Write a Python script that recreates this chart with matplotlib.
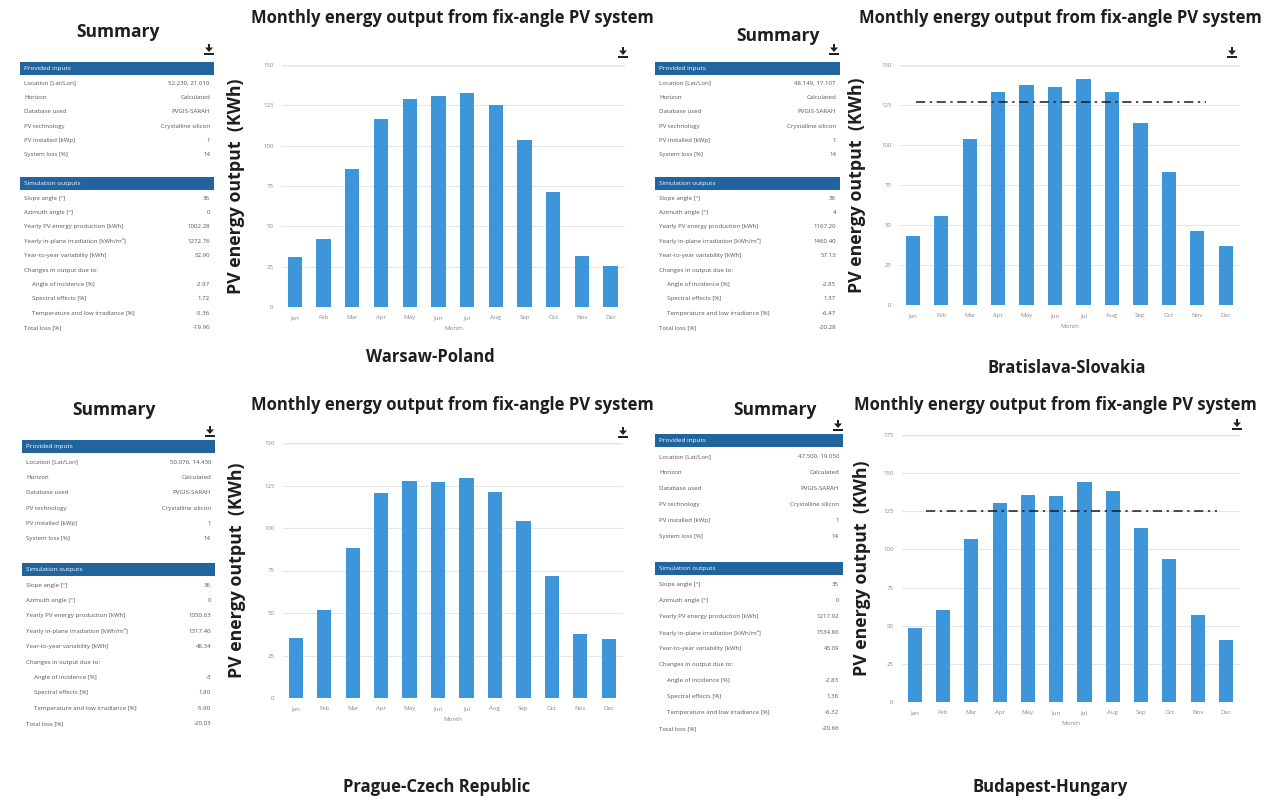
import matplotlib
matplotlib.use("Agg")
import matplotlib.pyplot as plt
from matplotlib.patches import Rectangle, Polygon

plt.rcParams["font.family"] = ["Open Sans", "DejaVu Sans"]

# ---------------------------------------------------------------- data
months = ["Jan", "Feb", "Mar", "Apr", "May", "Jun",
          "Jul", "Aug", "Sep", "Oct", "Nov", "Dec"]

warsaw_kwh = [31.3, 42.3, 85.4, 116.3, 128.8, 130.8, 132.7, 125.4, 103.8, 71.5, 31.9, 25.4]
bratislava_kwh = [43.3, 55.8, 103.5, 132.9, 137.5, 136.0, 141.3, 133.1, 114.0, 82.9, 46.3, 36.9]
prague_kwh = [35.3, 52.0, 88.2, 120.6, 127.5, 126.9, 129.4, 121.0, 103.9, 71.6, 37.8, 34.9]
budapest_kwh = [48.8, 60.2, 106.8, 130.6, 135.4, 135.2, 144.0, 138.5, 114.2, 93.4, 56.9, 40.5]

bratislava_ref = 127
budapest_ref = 125

input_labels = ["Location [Lat/Lon]", "Horizon", "Database used", "PV technology",
                "PV installed [kWp]", "System loss [%]"]
output_labels = ["Slope angle [°]", "Azimuth angle [°]",
                 "Yearly PV energy production [kWh]",
                 "Yearly in-plane irradiation [kWh/m²]",
                 "Year-to-year variability [kWh]", "Changes in output due to:",
                 "Angle of incidence [%]", "Spectral effects [%]",
                 "Temperature and low irradiance [%]", "Total loss [%]"]
indented_rows = [6, 7, 8]

warsaw_inputs = ["52.230, 21.010", "Calculated", "PVGIS-SARAH", "Crystalline silicon", "1", "14"]
warsaw_outputs = ["36", "0", "1002.28", "1272.76", "52.90", "", "-2.97", "1.72", "-5.36", "-19.96"]
bratislava_inputs = ["48.149, 17.107", "Calculated", "PVGIS-SARAH", "Crystalline silicon", "1", "14"]
bratislava_outputs = ["36", "4", "1167.20", "1460.40", "57.13", "", "-2.85", "1.37", "-6.47", "-20.28"]
prague_inputs = ["50.076, 14.430", "Calculated", "PVGIS-SARAH", "Crystalline silicon", "1", "14"]
prague_outputs = ["36", "0", "1050.63", "1317.40", "48.34", "", "-3", "1.80", "-5.90", "-20.03"]
budapest_inputs = ["47.500, 19.050", "Calculated", "PVGIS-SARAH", "Crystalline silicon", "1", "14"]
budapest_outputs = ["35", "0", "1217.92", "1534.86", "43.09", "", "-2.83", "1.36", "-6.32", "-20.66"]

chart_title = "Monthly energy output from fix-angle PV system"
y_label = "PV energy output  (KWh)"

# ---------------------------------------------------------------- figure
W, H = 1275, 801
fig = plt.figure(figsize=(W / 100, H / 100), dpi=100)
fig.patch.set_facecolor("white")

bg = fig.add_axes([0, 0, 1, 1], zorder=0)
bg.set_xlim(0, W)
bg.set_ylim(H, 0)
bg.axis("off")

BAR = "#3d95da"
HEAD = "#22649e"
TXT = "#555555"
DARK = "#1e1e1e"


def download_icon(cx, cy):
    col = "#222222"
    bg.add_patch(Rectangle((cx - 1.3, cy - 6), 2.6, 4, color=col, lw=0))
    bg.add_patch(Polygon([[cx - 4, cy - 2.5], [cx + 4, cy - 2.5], [cx, cy + 2]],
                         closed=True, color=col, lw=0))
    bg.add_patch(Rectangle((cx - 5, cy + 3), 10, 2.2, color=col, lw=0))


def summary_table(x0, x1, yc0, pitch, inputs, outputs, title_xy, icon_xy):
    bg.text(title_xy[0], title_xy[1], "Summary", ha="center", va="center",
            fontsize=12.5, fontweight="bold", color=DARK)
    download_icon(*icon_xy)
    hh = 13.5
    for k, head in ((0, "Provided inputs"), (8, "Simulation outputs")):
        yc = yc0 + k * pitch
        bg.add_patch(Rectangle((x0, yc - hh / 2), x1 - x0, hh, color=HEAD, lw=0))
        bg.text(x0 + 4, yc, head, ha="left", va="center", fontsize=4.6, color="white")
    for i, (lab, val) in enumerate(zip(input_labels, inputs)):
        yc = yc0 + (i + 1) * pitch
        bg.text(x0 + 4, yc, lab, ha="left", va="center", fontsize=4.4, color=TXT)
        bg.text(x1 - 4, yc, val, ha="right", va="center", fontsize=4.4, color=TXT)
    for i, (lab, val) in enumerate(zip(output_labels, outputs)):
        yc = yc0 + (i + 9) * pitch
        dx = 12 if i in indented_rows else 4
        bg.text(x0 + dx, yc, lab, ha="left", va="center", fontsize=4.4, color=TXT)
        bg.text(x1 - 4, yc, val, ha="right", va="center", fontsize=4.4, color=TXT)


def energy_chart(px, values, ymax, title_xy, ylabel_x, city, city_xy, icon_xy,
                 ref=None, ref_span=None):
    left, top, right, bottom = px
    ax = fig.add_axes([left / W, (H - bottom) / H, (right - left) / W, (bottom - top) / H],
                      zorder=2)
    ax.set_facecolor("none")
    x = list(range(len(months)))
    ax.bar(x, values, width=0.5, color=BAR, zorder=2)
    ax.set_xlim(-0.45, 11.5)
    ax.set_ylim(0, ymax)
    ax.set_yticks(list(range(0, ymax + 1, 25)))
    ax.set_xticks(x)
    ax.set_xticklabels(months)
    for s in ax.spines.values():
        s.set_visible(False)
    ax.grid(axis="y", color="#e6e6e6", lw=0.8, zorder=0)
    ax.axhline(ymax, color="#9a9a9a", lw=0.9, zorder=1)
    ax.tick_params(length=0, labelsize=4.4, labelcolor="#8a8a8a", pad=6)
    ax.set_xlabel("Month", fontsize=4.4, color="#8a8a8a", labelpad=4)
    if ref is not None:
        ax.plot(ref_span, [ref, ref], color="#1a1a1a", lw=1.1,
                linestyle=(0, (6, 3, 1.5, 3)), zorder=3)
    bg.text(title_xy[0], title_xy[1], chart_title, ha="center", va="center",
            fontsize=12, fontweight="bold", color=DARK)
    bg.text(ylabel_x, (top + bottom) / 2, y_label, ha="center", va="center",
            rotation=90, fontsize=12.8, fontweight="bold", color=DARK)
    bg.text(city_xy[0], city_xy[1], city, ha="center", va="center",
            fontsize=12, fontweight="bold", color=DARK)
    download_icon(*icon_xy)
    return ax


# Warsaw
summary_table(20, 214, 68.5, 14.4, warsaw_inputs, warsaw_outputs, (118, 32), (209, 50))
energy_chart((282, 65, 625, 307), warsaw_kwh, 150, (452, 18), 236,
             "Warsaw-Poland", (430, 357), (623, 53))

# Bratislava
summary_table(655, 840, 68.5, 14.4, bratislava_inputs, bratislava_outputs, (778, 36), (834, 50))
energy_chart((900, 65, 1240, 305), bratislava_kwh, 150, (1060, 18), 857,
             "Bratislava-Slovakia", (1067, 368), (1232, 53),
             ref=bratislava_ref, ref_span=(0.1, 10.3))

# Prague
summary_table(22, 215, 446.5, 15.4, prague_inputs, prague_outputs, (114, 410), (210, 432))
energy_chart((283, 443, 623, 698), prague_kwh, 150, (452, 405), 237,
             "Prague-Czech Republic", (437, 787), (623, 433))

# Budapest
summary_table(655, 843, 440.5, 16.0, budapest_inputs, budapest_outputs, (775, 410), (838, 426))
energy_chart((902, 435, 1240, 702), budapest_kwh, 175, (1055, 405), 862,
             "Budapest-Hungary", (1050, 787), (1237, 425),
             ref=budapest_ref, ref_span=(0.4, 10.7))

fig.savefig("out.png", dpi=100, facecolor="white")
